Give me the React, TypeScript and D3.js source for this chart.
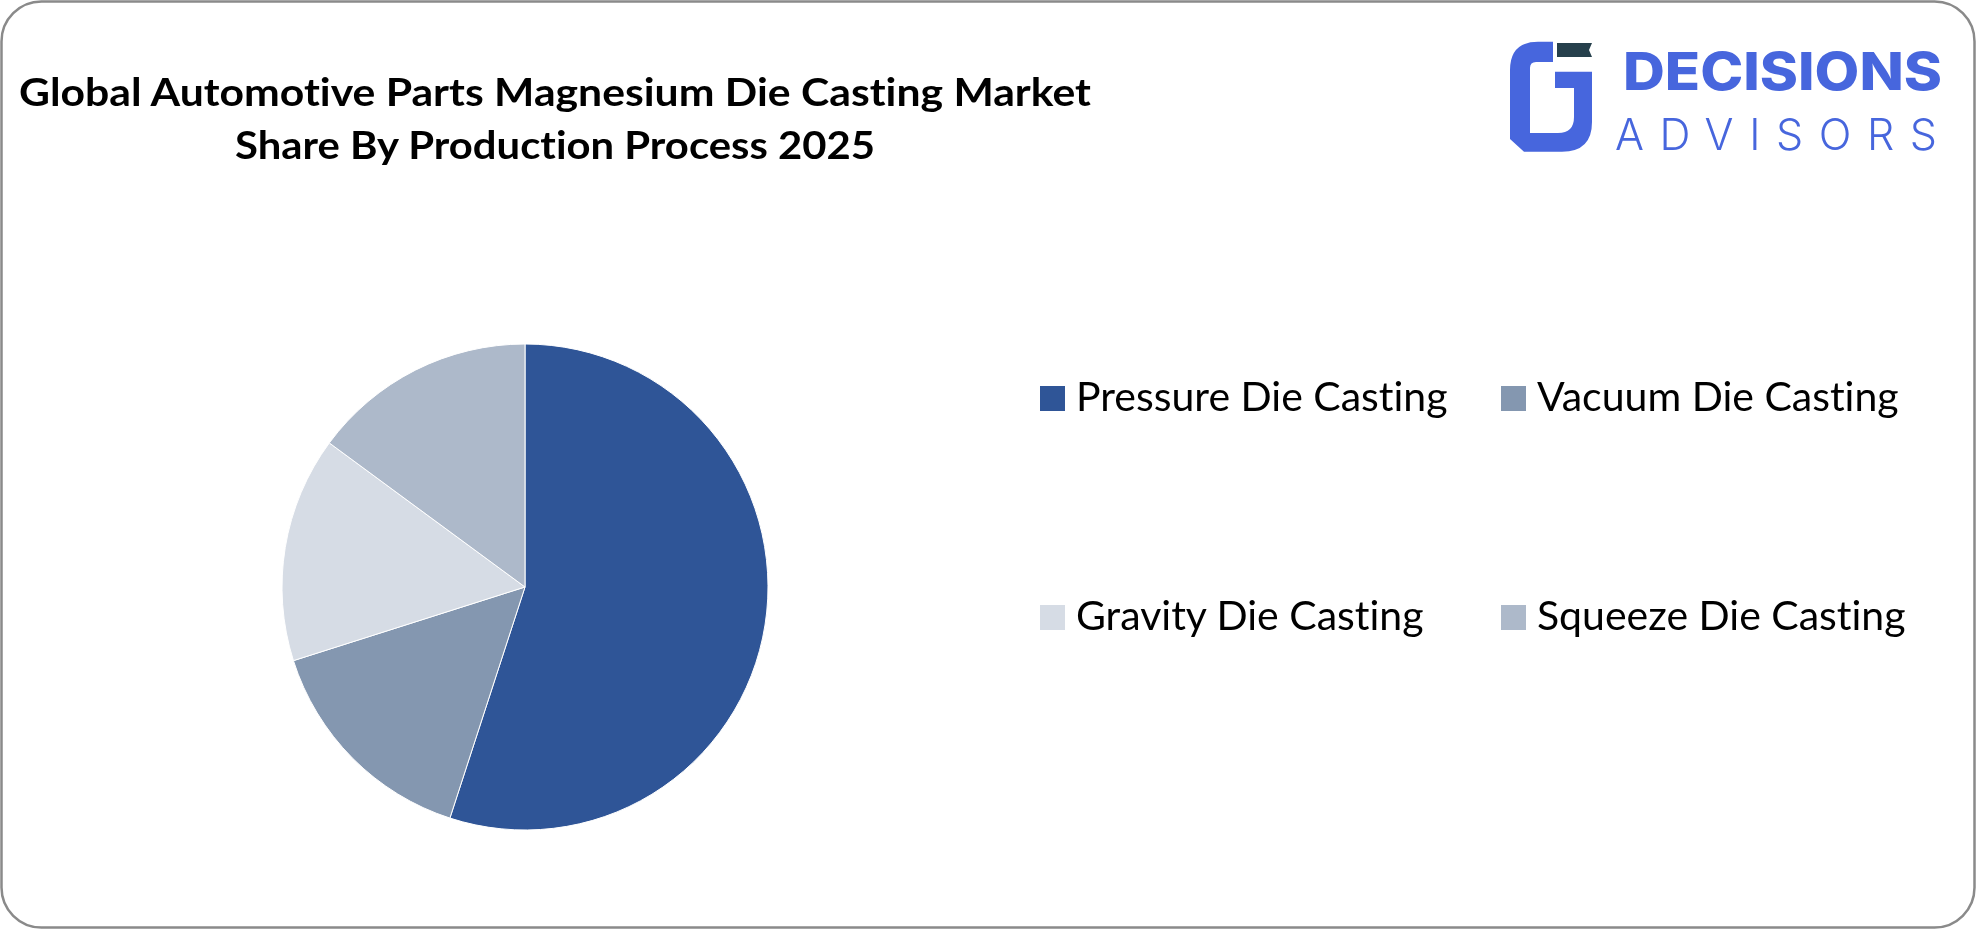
import * as d3 from "d3";
import { useEffect } from "react";

const categories = [
  "Pressure Die Casting",
  "Vacuum Die Casting",
  "Gravity Die Casting",
  "Squeeze Die Casting",
];
const shares = [55, 15.1, 15, 14.9];
const colors = ["#2F5597", "#8497B0", "#D6DCE5", "#ADB9CA"];
const titleLines = [
  "Global Automotive Parts Magnesium Die Casting Market",
  "Share By Production Process 2025",
];

const width = 1977;
const height = 930;

const Logo = () => {
  const blue = "#4766DD";
  return (
    <g>
      <path
        d="M1510,135 V70 Q1510,41.7 1538,41.7 H1553 V62 H1536 Q1530,62 1530,68 V135 Z"
        fill={blue}
      />
      <path d="M1557,43 H1592 L1589,50 L1592,57 H1557 Z" fill="#26404C" />
      <path
        d="M1555,71.7 H1592 V122 Q1592,151.7 1562,151.7 H1524 L1510,139 V133 H1558 Q1574,133 1574,117 V88 H1555 Z"
        fill={blue}
      />
      <text
        x={1623}
        y={90}
        fontFamily="Inter, 'Noto Sans', sans-serif"
        fontWeight={800}
        fontSize={52}
        fill={blue}
        textLength={319}
        lengthAdjust="spacingAndGlyphs"
      >
        DECISIONS
      </text>
      <text
        x={1615}
        y={150}
        fontFamily="Inter, 'Noto Sans', sans-serif"
        fontWeight={300}
        fontSize={43}
        fill={blue}
        textLength={322}
        lengthAdjust="spacing"
      >
        ADVISORS
      </text>
    </g>
  );
};

const App = () => {
  useEffect(() => {
    document.body.style.margin = "0";
  }, []);

  const cx = 525;
  const cy = 587;
  const radius = 243;

  const pie = d3
    .pie<number>()
    .sort(null)
    .value((d) => d);
  const arcs = pie(shares);
  const arc = d3.arc<d3.PieArcDatum<number>>().innerRadius(0).outerRadius(radius);

  const legendCols = [1040, 1501];
  const legendRows = [411, 630];
  const box = 25;

  return (
    <svg
      width={width}
      height={height}
      viewBox={`0 0 ${width} ${height}`}
      style={{ position: "fixed", left: 0, top: 0, display: "block", fontVariantLigatures: "none" }}
    >
      <rect
        x={1.5}
        y={1.5}
        width={width - 4}
        height={height - 4}
        rx={40}
        ry={40}
        fill="#fff"
        stroke="#8a8a8a"
        strokeWidth={2.5}
      />

      {titleLines.map((t, i) => (
        <text
          key={t}
          x={555}
          y={106 + i * 53}
          textAnchor="middle"
          fontFamily="Lato, 'Open Sans', sans-serif"
          fontWeight={700}
          fontSize={39}
          fill="#000"
          textLength={i === 0 ? 1072 : 640}
          lengthAdjust="spacingAndGlyphs"
        >
          {t}
        </text>
      ))}

      <Logo />

      <g transform={`translate(${cx},${cy})`}>
        {arcs.map((a, i) => (
          <path
            key={categories[i]}
            d={arc(a) as string}
            fill={colors[i]}
            stroke="#fff"
            strokeWidth={1}
          />
        ))}
      </g>

      {categories.map((c, i) => {
        const x = legendCols[i % 2];
        const y = legendRows[Math.floor(i / 2)];
        return (
          <g key={c}>
            <rect x={x} y={y - box} width={box} height={box} fill={colors[i]} />
            <text
              x={x + box + 11}
              y={y}
              fontFamily="Lato, 'Open Sans', sans-serif"
              fontSize={41}
              fill="#000"
            >
              {c}
            </text>
          </g>
        );
      })}
    </svg>
  );
};

export default App;
